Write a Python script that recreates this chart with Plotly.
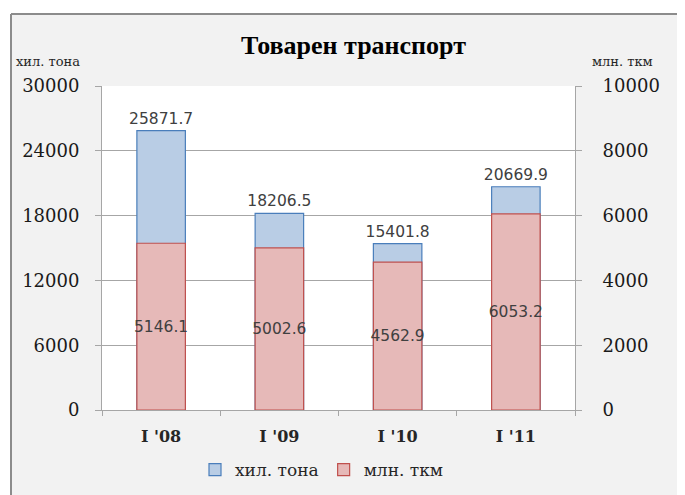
import plotly.graph_objects as go

categories = ["I '08", "I '09", "I '10", "I '11"]
tons = [25871.7, 18206.5, 15401.8, 20669.9]      # хил. тона (left axis)
tkm = [5146.1, 5002.6, 4562.9, 6053.2]            # млн. ткм (right axis)
left_ticks = [0, 6000, 12000, 18000, 24000, 30000]
right_ticks = [0, 2000, 4000, 6000, 8000, 10000]

OFF = 8  # page body margin
W, H = 685 - OFF, 495 - OFF
L, T = 102 - OFF, 86 - OFF
pw, ph = 473, 324
R, B = W - L - pw, H - T - ph

def px(x):  # screen x -> paper
    return (x - OFF - L) / pw

def py(y):  # screen y -> paper
    return (T + ph - (y - OFF)) / ph

serif = "DejaVu Serif"
tserif = "Liberation Serif"
sans = "DejaVu Sans"
grid = "#a6a6a6"

fig = go.Figure()
fig.add_trace(go.Bar(
    x=categories, y=tons, name="хил. тона", yaxis="y",
    marker=dict(color="#b9cde5", line=dict(color="#4a7ebb", width=1.2)),
    text=[f"{v:.1f}" for v in tons], textposition="outside", textangle=0,
    textfont=dict(family=sans, size=15.5, color="#404040"),
    constraintext="none", cliponaxis=False,
))
fig.add_trace(go.Bar(
    x=categories, y=tkm, name="млн. ткм", yaxis="y2",
    marker=dict(color="#e6b9b8", line=dict(color="#c0504d", width=1.2)),
    text=[f"{v:.1f}" for v in tkm], textposition="inside", textangle=0,
    insidetextanchor="middle",
    textfont=dict(family=sans, size=15.5, color="#404040"),
    constraintext="none",
))

fig.update_layout(
    width=W, height=H,
    margin=dict(l=L, r=R, t=T, b=B, autoexpand=False),
    paper_bgcolor="#f2f2f2", plot_bgcolor="white",
    bargap=0.59,
    showlegend=True,
    legend=dict(orientation="h", x=px(322), y=py(470), xanchor="center", yanchor="middle",
                font=dict(family=serif, size=17, color="#262626"),
                bgcolor="rgba(0,0,0,0)", itemwidth=30, tracegroupgap=0),
    xaxis=dict(
        type="category", range=[-0.5, 3.5], showgrid=False,
        showline=True, linecolor=grid, linewidth=1,
        ticks="outside", tickson="boundaries", ticklen=5, tickcolor=grid,
        ticklabelstandoff=12,
        tickfont=dict(family=serif, size=16, color="#262626", weight="bold"),
    ),
    yaxis=dict(
        range=[0, 30000], tickvals=left_ticks, ticktext=[str(v) for v in left_ticks],
        showgrid=True, gridcolor=grid, gridwidth=1,
        showline=True, linecolor=grid, linewidth=1,
        ticks="outside", ticklen=6, tickcolor=grid, ticklabelstandoff=12,
        tickfont=dict(family=serif, size=18, color="#1a1a1a"),
        zeroline=False,
    ),
    yaxis2=dict(
        range=[0, 10000], tickvals=right_ticks, ticktext=[str(v) for v in right_ticks],
        overlaying="y", side="right", showgrid=False,
        showline=True, linecolor=grid, linewidth=1,
        ticks="outside", ticklen=6, tickcolor=grid, ticklabelstandoff=17,
        tickfont=dict(family=serif, size=18, color="#1a1a1a"),
        zeroline=False,
    ),
    shapes=[
        dict(type="rect", xref="paper", yref="paper", x0=px(0), x1=px(11), y0=py(H + 20), y1=py(0),
             fillcolor="white", line=dict(width=0), layer="above"),
        dict(type="rect", xref="paper", yref="paper", x0=px(0), x1=px(W + 20), y0=py(14), y1=py(0),
             fillcolor="white", line=dict(width=0), layer="above"),
        dict(type="line", xref="paper", yref="paper", x0=px(11), x1=px(11), y0=py(14), y1=py(H + 20),
             line=dict(color="#8c8c8c", width=2), layer="above"),
        dict(type="line", xref="paper", yref="paper", x0=px(11), x1=px(W + 20), y0=py(14), y1=py(14),
             line=dict(color="#8c8c8c", width=2), layer="above"),
    ],
    annotations=[
        dict(text="<b>Товарен транспорт</b>", xref="paper", yref="paper", x=px(353), y=py(45),
             xanchor="center", yanchor="middle", showarrow=False,
             font=dict(family=tserif, size=26, color="#000000")),
        dict(text="хил. тона", xref="paper", yref="paper", x=px(14), y=py(62),
             xanchor="left", yanchor="middle", showarrow=False,
             font=dict(family=serif, size=13, color="#262626")),
        dict(text="млн. ткм", xref="paper", yref="paper", x=px(655), y=py(61),
             xanchor="right", yanchor="middle", showarrow=False,
             font=dict(family=serif, size=13, color="#262626")),
    ],
)

fig.write_html("out.html")
